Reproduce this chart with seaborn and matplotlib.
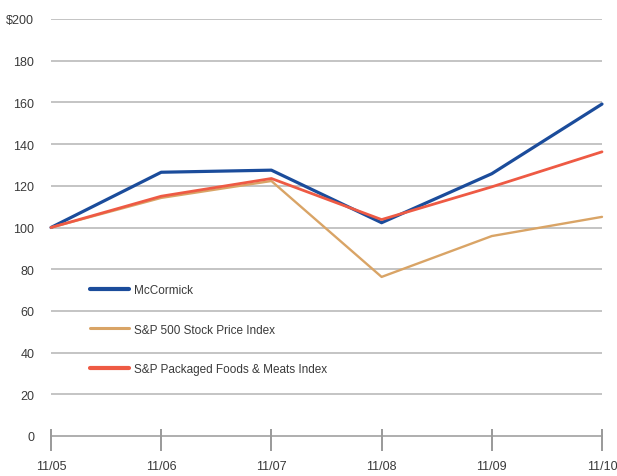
import matplotlib
matplotlib.use("Agg")
import matplotlib.pyplot as plt
import seaborn as sns
import pandas as pd

periods = ["11/05", "11/06", "11/07", "11/08", "11/09", "11/10"]
series_names = ["McCormick", "S&P 500 Stock Price Index", "S&P Packaged Foods & Meats Index"]
mccormick = [100, 126.5, 127.5, 102.3, 125.8, 159.2]
sp500 = [100, 114.2, 122.3, 76.3, 95.9, 105.1]
foods = [100, 115.0, 123.5, 103.8, 119.5, 136.3]
y_ticks = [0, 20, 40, 60, 80, 100, 120, 140, 160, 180, 200]
y_labels = ["0", "20", "40", "60", "80", "100", "120", "140", "160", "180", "$200"]

colors = ["#1b4c9b", "#d9a466", "#ee5a44"]
widths = [2.3, 1.7, 2.0]

sns.set_theme(style="white")
plt.rcParams["font.family"] = ["Liberation Sans Narrow", "Liberation Sans", "DejaVu Sans"]

rows = []
for name, vals in zip(series_names, [mccormick, sp500, foods]):
    for i, v in enumerate(vals):
        rows.append({"x": i, "value": v, "series": name})
df = pd.DataFrame(rows)

fig = plt.figure(figsize=(6.17, 4.77), dpi=100)
ax = fig.add_axes([51 / 617, 1 - 437 / 477, 551 / 617, 417 / 477])

for name, c, w in zip(series_names, colors, widths):
    sns.lineplot(data=df[df["series"] == name], x="x", y="value", color=c,
                 linewidth=w, label=name, ax=ax, clip_on=False)

ax.set_xlim(0, len(periods) - 1)
ax.set_ylim(0, 200)
ax.set_yticks(y_ticks)
ax.set_yticklabels(y_labels)
ax.set_xticks(range(len(periods)))
ax.set_xticklabels(periods)
ax.set_xlabel("")
ax.set_ylabel("")

for t in y_ticks[1:]:
    ax.axhline(t, color="#b4b4b4", linewidth=1.1, zorder=0)

for s in ["left", "right", "top"]:
    ax.spines[s].set_visible(False)
ax.spines["bottom"].set_color("#999999")
ax.spines["bottom"].set_linewidth(1.1)

txt = "#3a3a3a"
ax.tick_params(axis="y", length=0, pad=12, labelsize=9, labelcolor=txt)
ax.tick_params(axis="x", which="major", direction="out", length=11, width=1.2,
               color="#888888", pad=6, labelsize=9, labelcolor=txt, bottom=True)
ax.xaxis.remove_overlapping_locs = False
ax.set_xticks(range(len(periods)), minor=True)
ax.tick_params(axis="x", which="minor", direction="in", length=5, width=1.2,
               color="#888888", bottom=True)

leg = ax.legend(loc="upper left", bbox_to_anchor=(0.071, 0.365), frameon=False,
                borderpad=0, borderaxespad=0, handlelength=3.3, handletextpad=0.45,
                labelspacing=2.35, fontsize=8.5)
for t in leg.get_texts():
    t.set_color(txt)
for h, w in zip(leg.get_lines(), [3.0, 2.2, 3.0]):
    h.set_linewidth(w)

fig.savefig("out.png", dpi=100)
